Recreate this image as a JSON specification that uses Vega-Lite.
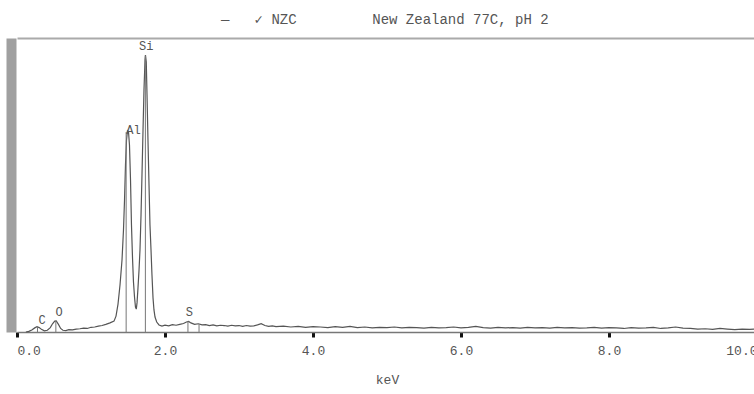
{
  "$schema": "https://vega.github.io/schema/vega-lite/v6.json",
  "width": 740,
  "height": 294,
  "autosize": {"type": "none"},
  "padding": {"left": 17, "top": 38, "right": 0, "bottom": 62},
  "background": "white",
  "config": {"view": {"stroke": null}},
  "title": {
    "text": "—\u00a0\u00a0\u00a0✓\u00a0NZC\u00a0\u00a0\u00a0\u00a0\u00a0\u00a0\u00a0\u00a0\u00a0New\u00a0Zealand\u00a077C,\u00a0pH\u00a02",
    "anchor": "start",
    "frame": "group",
    "dx": 204,
    "offset": 0,
    "baseline": "alphabetic",
    "font": "Liberation Mono, DejaVu Sans Mono, monospace",
    "fontSize": 14,
    "fontWeight": "normal",
    "color": "#555"
  },
  "datasets": {
    "spectrum": [
      {"keV": 0.12, "counts": 0}, {"keV": 0.16, "counts": 0.2}, {"keV": 0.20, "counts": 0.7}, {"keV": 0.24, "counts": 1.4},
      {"keV": 0.27, "counts": 1.8}, {"keV": 0.30, "counts": 1.5}, {"keV": 0.33, "counts": 0.9}, {"keV": 0.37, "counts": 0.4},
      {"keV": 0.41, "counts": 0.6}, {"keV": 0.45, "counts": 1.5}, {"keV": 0.48, "counts": 2.8}, {"keV": 0.51, "counts": 3.7},
      {"keV": 0.53, "counts": 3.8}, {"keV": 0.56, "counts": 2.6}, {"keV": 0.59, "counts": 1.2}, {"keV": 0.62, "counts": 0.6},
      {"keV": 0.66, "counts": 0.5}, {"keV": 0.70, "counts": 0.8}, {"keV": 0.75, "counts": 0.7}, {"keV": 0.80, "counts": 1.0},
      {"keV": 0.85, "counts": 1.1}, {"keV": 0.90, "counts": 1.3}, {"keV": 0.95, "counts": 1.2}, {"keV": 1.00, "counts": 1.6},
      {"keV": 1.05, "counts": 1.7}, {"keV": 1.10, "counts": 2.0}, {"keV": 1.15, "counts": 2.2}, {"keV": 1.20, "counts": 2.6},
      {"keV": 1.257, "counts": 3.1}, {"keV": 1.311, "counts": 3.7}, {"keV": 1.338, "counts": 5.4}, {"keV": 1.365, "counts": 9.5},
      {"keV": 1.392, "counts": 16.0}, {"keV": 1.419, "counts": 24.5}, {"keV": 1.439, "counts": 34.7}, {"keV": 1.453, "counts": 44.9},
      {"keV": 1.466, "counts": 56.8}, {"keV": 1.480, "counts": 65.3}, {"keV": 1.493, "counts": 68.4}, {"keV": 1.507, "counts": 68.0},
      {"keV": 1.520, "counts": 63.6}, {"keV": 1.534, "counts": 51.7}, {"keV": 1.547, "counts": 36.4}, {"keV": 1.561, "counts": 25.2},
      {"keV": 1.574, "counts": 17.0}, {"keV": 1.588, "counts": 11.9}, {"keV": 1.601, "counts": 8.5}, {"keV": 1.612, "counts": 7.8},
      {"keV": 1.622, "counts": 9.9}, {"keV": 1.635, "counts": 15.0}, {"keV": 1.649, "counts": 21.1}, {"keV": 1.662, "counts": 27.9},
      {"keV": 1.676, "counts": 39.8}, {"keV": 1.689, "counts": 53.4}, {"keV": 1.703, "counts": 68.7}, {"keV": 1.716, "counts": 82.3},
      {"keV": 1.730, "counts": 92.5}, {"keV": 1.736, "counts": 94.2}, {"keV": 1.747, "counts": 91.8}, {"keV": 1.757, "counts": 80.6},
      {"keV": 1.770, "counts": 65.3}, {"keV": 1.784, "counts": 50.0}, {"keV": 1.797, "counts": 36.4}, {"keV": 1.811, "counts": 27.9},
      {"keV": 1.824, "counts": 19.4}, {"keV": 1.838, "counts": 11.6}, {"keV": 1.851, "counts": 7.5}, {"keV": 1.865, "counts": 5.1},
      {"keV": 1.888, "counts": 3.4}, {"keV": 1.919, "counts": 2.4}, {"keV": 1.959, "counts": 2.0}, {"keV": 2.00, "counts": 2.3},
      {"keV": 2.05, "counts": 2.1}, {"keV": 2.10, "counts": 2.5}, {"keV": 2.15, "counts": 2.3}, {"keV": 2.20, "counts": 2.6},
      {"keV": 2.25, "counts": 2.9}, {"keV": 2.29, "counts": 3.4}, {"keV": 2.32, "counts": 3.6}, {"keV": 2.35, "counts": 3.1},
      {"keV": 2.40, "counts": 2.6}, {"keV": 2.45, "counts": 2.8}, {"keV": 2.50, "counts": 2.4}, {"keV": 2.55, "counts": 2.5},
      {"keV": 2.60, "counts": 2.2}, {"keV": 2.65, "counts": 2.4}, {"keV": 2.70, "counts": 2.1}, {"keV": 2.75, "counts": 2.3},
      {"keV": 2.80, "counts": 2.2}, {"keV": 2.85, "counts": 2.0}, {"keV": 2.90, "counts": 2.3}, {"keV": 2.95, "counts": 2.1},
      {"keV": 3.00, "counts": 2.2}, {"keV": 3.05, "counts": 1.9}, {"keV": 3.10, "counts": 2.2}, {"keV": 3.15, "counts": 2.0},
      {"keV": 3.20, "counts": 2.1}, {"keV": 3.25, "counts": 2.4}, {"keV": 3.30, "counts": 2.8}, {"keV": 3.35, "counts": 2.2},
      {"keV": 3.40, "counts": 1.9}, {"keV": 3.45, "counts": 2.1}, {"keV": 3.50, "counts": 1.8}, {"keV": 3.6, "counts": 2.0},
      {"keV": 3.7, "counts": 1.7}, {"keV": 3.8, "counts": 1.9}, {"keV": 3.9, "counts": 1.6}, {"keV": 4.0, "counts": 1.8},
      {"keV": 4.1, "counts": 1.7}, {"keV": 4.2, "counts": 1.5}, {"keV": 4.3, "counts": 1.8}, {"keV": 4.4, "counts": 1.6},
      {"keV": 4.5, "counts": 1.9}, {"keV": 4.6, "counts": 1.5}, {"keV": 4.7, "counts": 1.7}, {"keV": 4.8, "counts": 1.4},
      {"keV": 4.9, "counts": 1.6}, {"keV": 5.0, "counts": 1.5}, {"keV": 5.1, "counts": 1.7}, {"keV": 5.2, "counts": 1.4},
      {"keV": 5.3, "counts": 1.6}, {"keV": 5.4, "counts": 1.5}, {"keV": 5.5, "counts": 1.3}, {"keV": 5.6, "counts": 1.6},
      {"keV": 5.7, "counts": 1.4}, {"keV": 5.8, "counts": 1.5}, {"keV": 5.9, "counts": 1.7}, {"keV": 6.0, "counts": 1.4},
      {"keV": 6.1, "counts": 1.6}, {"keV": 6.2, "counts": 1.9}, {"keV": 6.3, "counts": 1.5}, {"keV": 6.4, "counts": 1.3},
      {"keV": 6.5, "counts": 1.6}, {"keV": 6.6, "counts": 1.4}, {"keV": 6.7, "counts": 1.5}, {"keV": 6.8, "counts": 1.3},
      {"keV": 6.9, "counts": 1.6}, {"keV": 7.0, "counts": 1.4}, {"keV": 7.1, "counts": 1.5}, {"keV": 7.2, "counts": 1.3},
      {"keV": 7.3, "counts": 1.6}, {"keV": 7.4, "counts": 1.4}, {"keV": 7.5, "counts": 1.5}, {"keV": 7.6, "counts": 1.3},
      {"keV": 7.7, "counts": 1.4}, {"keV": 7.8, "counts": 1.6}, {"keV": 7.9, "counts": 1.3}, {"keV": 8.0, "counts": 1.5},
      {"keV": 8.1, "counts": 1.4}, {"keV": 8.2, "counts": 1.2}, {"keV": 8.3, "counts": 1.5}, {"keV": 8.4, "counts": 1.3},
      {"keV": 8.5, "counts": 1.4}, {"keV": 8.6, "counts": 1.6}, {"keV": 8.7, "counts": 1.2}, {"keV": 8.8, "counts": 1.4},
      {"keV": 8.9, "counts": 1.7}, {"keV": 9.0, "counts": 1.3}, {"keV": 9.1, "counts": 1.2}, {"keV": 9.2, "counts": 1.0},
      {"keV": 9.3, "counts": 1.1}, {"keV": 9.4, "counts": 0.9}, {"keV": 9.5, "counts": 1.2}, {"keV": 9.6, "counts": 1.0},
      {"keV": 9.7, "counts": 0.8}, {"keV": 9.8, "counts": 1.0}, {"keV": 9.9, "counts": 0.9}, {"keV": 10.0, "counts": 1.0}
    ],
    "markers": [
      {"element": "C", "keV": 0.277, "height": 1.8},
      {"element": "O", "keV": 0.525, "height": 3.8},
      {"element": "Al", "keV": 1.475, "height": 68},
      {"element": "Si", "keV": 1.735, "height": 94},
      {"element": "S", "keV": 2.31, "height": 3.6},
      {"element": "S Kβ", "keV": 2.46, "height": 2.6}
    ],
    "labels": [
      {"label": "C", "keV": 0.338, "counts": 4.1},
      {"label": "O", "keV": 0.568, "counts": 6.9},
      {"label": "Al", "keV": 1.575, "counts": 68.7},
      {"label": "Si", "keV": 1.745, "counts": 97.3},
      {"label": "S", "keV": 2.33, "counts": 6.8}
    ]
  },
  "resolve": {"axis": {"x": "independent"}},
  "layer": [
    {
      "data": {"name": "spectrum"},
      "mark": {"type": "line", "color": "#555", "strokeWidth": 1.2},
      "encoding": {
        "x": {
          "field": "keV", "type": "quantitative",
          "scale": {"domain": [0, 10], "nice": false, "zero": false},
          "axis": {
            "orient": "bottom",
            "values": [0, 2, 4, 6, 8, 10],
            "format": ".1f",
            "grid": false,
            "title": "keV",
            "labelFlush": true,
            "labelFont": "Liberation Mono, DejaVu Sans Mono, monospace",
            "labelFontSize": 13,
            "labelColor": "#555",
            "labelPadding": 7,
            "tickColor": "#111",
            "tickWidth": 3,
            "tickSize": 5,
            "domainColor": "#777",
            "domainWidth": 1.5,
            "titleFont": "Liberation Mono, DejaVu Sans Mono, monospace",
            "titleFontSize": 13,
            "titleFontWeight": "normal",
            "titleColor": "#555",
            "titlePadding": 16
          }
        },
        "y": {
          "field": "counts", "type": "quantitative",
          "scale": {"domain": [0, 100], "nice": false},
          "axis": {
            "labels": false, "ticks": false, "grid": false, "title": null,
            "domainColor": "#a0a0a0", "domainWidth": 10, "offset": 6
          }
        }
      }
    },
    {
      "data": {"name": "markers"},
      "mark": {"type": "rule", "color": "#777", "strokeWidth": 1},
      "encoding": {
        "x": {
          "field": "keV", "type": "quantitative",
          "axis": {
            "orient": "top", "labels": false, "ticks": false, "grid": false, "title": null,
            "domainColor": "#aaa", "domainWidth": 2
          }
        },
        "y": {"field": "height", "type": "quantitative"},
        "y2": {"datum": 0}
      }
    },
    {
      "data": {"name": "labels"},
      "mark": {"type": "text", "font": "Liberation Mono, DejaVu Sans Mono, monospace", "fontSize": 12, "color": "#555", "baseline": "middle"},
      "encoding": {
        "x": {"field": "keV", "type": "quantitative", "axis": null},
        "y": {"field": "counts", "type": "quantitative"},
        "text": {"field": "label"}
      }
    }
  ]
}
